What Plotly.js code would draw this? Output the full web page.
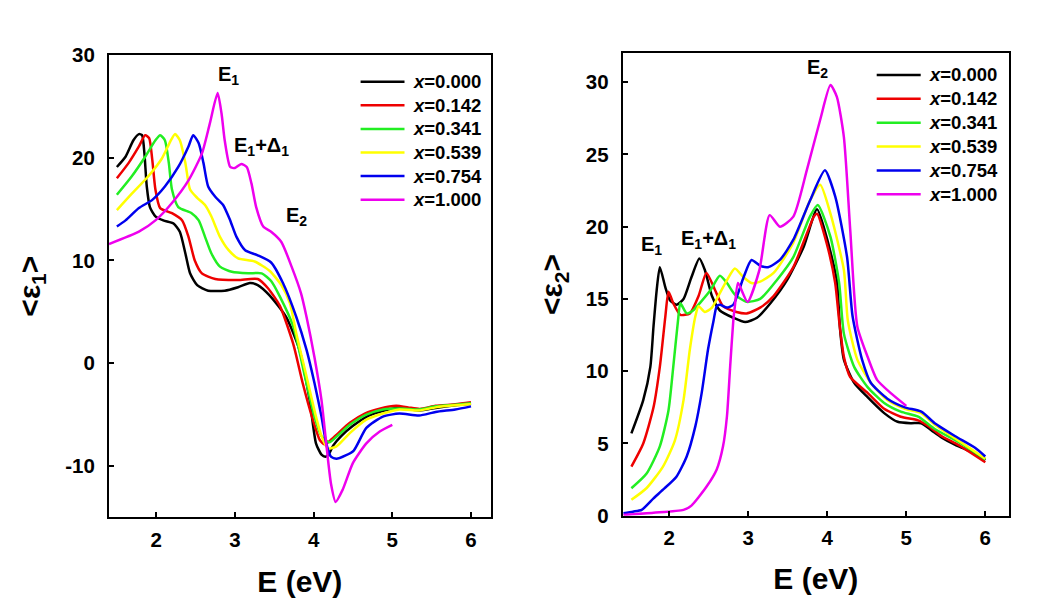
<!DOCTYPE html>
<html>
<head>
<meta charset="utf-8">
<script src="https://cdn.plot.ly/plotly-3.0.1.min.js"></script>
<style>html,body{margin:0;padding:0;background:#fff;}#chart{width:1060px;height:609px;}</style>
</head>
<body>
<div id="chart"></div>
<script>
// ---------- DATA ----------
const seriesLabels = ['0.000', '0.142', '0.341', '0.539', '0.754', '1.000'];
const seriesColors = ['#000000', '#ee0000', '#22ee22', '#ffff00', '#0000ee', '#ee00ee'];

// axis tick labels
const e1TickVals = [-10, 0, 10, 20, 30];
const e1TickText = ['-10', '0', '10', '20', '30'];
const e2TickVals = [0, 5, 10, 15, 20, 25, 30];
const eTickVals = [2, 3, 4, 5, 6];

// <eps1> panel
const e1_E_000 = [1.50,1.61,1.71,1.78,1.82,1.85,1.88,1.92,1.99,2.09,2.22,2.30,2.37,2.43,2.52,2.66,2.87,3.04,3.19,3.29,3.44,3.65,3.82,3.95,4.03,4.10,4.15,4.19,4.25,4.35,4.50,4.70,4.90,5.05,5.20,5.35,5.55,5.80,6.00];
const e1_V_000 = [19.1,20.1,21.7,22.3,22.2,20.4,17.2,15.2,14.3,13.9,13.6,12.8,10.7,8.75,7.6,7.06,7.06,7.4,7.8,7.6,6.6,4.5,1.3,-3.6,-7.8,-8.9,-9.1,-8.9,-8.0,-7.1,-6.1,-5.1,-4.6,-4.35,-4.45,-4.6,-4.35,-4.1,-3.95];
const e1_E_142 = [1.50,1.65,1.78,1.86,1.91,1.95,1.99,2.05,2.20,2.33,2.41,2.49,2.58,2.75,3.04,3.29,3.42,3.57,3.74,3.86,3.99,4.08,4.14,4.20,4.30,4.46,4.65,4.85,5.05,5.20,5.35,5.55,5.80,6.00];
const e1_V_142 = [18.0,19.5,21.1,22.2,21.9,19.8,16.9,15.1,14.6,13.9,12.3,10.0,8.75,8.2,8.1,8.2,7.3,5.6,1.9,-1.9,-5.5,-7.5,-7.9,-7.6,-6.9,-5.8,-4.9,-4.4,-4.15,-4.3,-4.45,-4.15,-4.0,-3.8];
const e1_E_341 = [1.50,1.69,1.86,1.99,2.05,2.11,2.16,2.20,2.28,2.45,2.54,2.62,2.70,2.81,2.96,3.17,3.34,3.46,3.57,3.74,3.89,4.01,4.10,4.20,4.30,4.46,4.67,4.88,5.09,5.34,5.55,5.80,6.00];
const e1_V_341 = [16.4,18.2,20.1,21.7,22.2,21.7,19.5,16.9,15.2,14.6,13.9,12.3,10.7,9.4,8.9,8.75,8.75,8.0,6.5,3.6,-1.3,-5.2,-7.1,-7.7,-7.1,-6.0,-5.0,-4.5,-4.4,-4.5,-4.2,-4.05,-3.9];
const e1_E_539 = [1.50,1.69,1.90,2.07,2.18,2.24,2.30,2.37,2.43,2.52,2.62,2.70,2.81,2.92,3.04,3.25,3.44,3.59,3.70,3.78,3.91,4.03,4.10,4.18,4.29,4.46,4.67,4.88,5.09,5.34,5.55,5.80,6.00];
const e1_V_539 = [14.9,16.5,18.2,19.9,21.6,22.3,21.7,19.5,16.9,16.1,15.4,14.3,12.3,11.0,10.2,9.9,9.0,7.6,5.8,2.9,-1.3,-5.2,-7.1,-8.3,-8.1,-6.8,-5.5,-4.9,-4.5,-4.6,-4.3,-4.1,-4.0];
const e1_E_754 = [1.50,1.61,1.78,1.95,2.11,2.28,2.41,2.47,2.54,2.60,2.66,2.75,2.85,2.94,3.02,3.13,3.29,3.46,3.61,3.78,3.91,4.01,4.10,4.16,4.22,4.29,4.40,4.51,4.67,4.88,5.09,5.34,5.55,5.80,6.00];
const e1_V_754 = [13.3,13.9,15.1,15.9,17.2,19.1,21.1,22.2,21.4,19.5,17.2,16.2,15.4,13.9,12.3,11.0,10.5,9.8,7.8,4.5,1.3,-1.9,-5.2,-7.8,-9.1,-9.3,-9.0,-8.5,-6.3,-5.2,-4.9,-5.1,-4.75,-4.5,-4.2];
const e1_E_1000 = [1.40,1.78,1.99,2.20,2.41,2.58,2.68,2.78,2.83,2.87,2.94,3.00,3.08,3.15,3.21,3.27,3.36,3.46,3.59,3.72,3.84,3.91,4.01,4.10,4.16,4.22,4.28,4.37,4.50,4.67,4.84,5.00];
const e1_V_1000 = [11.6,12.8,13.9,15.6,17.8,20.4,23.3,26.3,24.3,21.7,19.1,19.0,19.4,19.1,17.5,15.2,13.3,12.8,11.8,9.4,6.8,4.5,0.6,-3.6,-7.8,-11.7,-13.5,-12.3,-9.7,-7.8,-6.65,-6.0];

// <eps2> panel
const e2_E_000 = [1.52,1.67,1.76,1.80,1.84,1.88,1.95,2.01,2.09,2.18,2.28,2.38,2.45,2.54,2.64,2.81,2.96,3.11,3.28,3.49,3.70,3.87,3.99,4.12,4.16,4.21,4.34,4.51,4.72,4.89,5.06,5.19,5.32,5.45,5.62,5.79,6.00];
const e2_V_000 = [5.7,8.0,10.3,13.1,15.6,17.2,15.8,14.9,14.6,15.0,16.5,17.8,17.0,15.2,14.2,13.7,13.4,13.7,14.7,16.3,18.6,21.2,19.3,16.3,13.0,10.8,9.2,8.2,7.1,6.5,6.4,6.4,5.9,5.4,4.9,4.5,3.85];
const e2_E_142 = [1.52,1.67,1.80,1.88,1.95,1.99,2.05,2.14,2.26,2.37,2.47,2.58,2.68,2.85,2.98,3.15,3.32,3.57,3.83,3.87,3.99,4.10,4.15,4.21,4.29,4.51,4.72,4.93,5.15,5.28,5.45,5.66,6.00];
const e2_V_142 = [3.4,5.0,7.5,10.3,13.8,15.5,14.7,13.9,14.0,15.2,16.8,15.6,14.5,14.1,14.0,14.4,15.2,17.2,20.7,20.9,18.9,16.1,13.5,11.0,9.6,8.5,7.4,6.85,6.6,6.2,5.5,4.9,3.7];
const e2_E_341 = [1.52,1.71,1.88,1.99,2.05,2.11,2.14,2.22,2.30,2.40,2.52,2.64,2.73,2.83,2.98,3.15,3.36,3.57,3.78,3.88,4.04,4.15,4.21,4.34,4.51,4.72,4.93,5.15,5.36,5.66,6.00];
const e2_V_341 = [1.9,2.9,4.8,7.3,10.3,13.5,14.7,14.0,14.2,14.8,15.6,16.6,16.1,15.3,14.8,15.0,16.3,17.9,20.7,21.5,19.3,16.1,12.6,10.3,8.9,7.8,7.2,6.85,6.0,5.1,3.9];
const e2_E_539 = [1.52,1.71,1.92,2.07,2.18,2.26,2.33,2.37,2.45,2.54,2.63,2.73,2.83,2.94,3.04,3.15,3.32,3.57,3.78,3.91,4.04,4.21,4.26,4.38,4.55,4.76,4.98,5.19,5.36,5.66,6.00];
const e2_V_539 = [1.1,1.9,3.4,5.2,8.0,11.5,13.8,14.5,14.1,14.4,15.3,16.3,17.1,16.5,16.1,16.2,16.8,18.9,21.8,22.9,20.9,17.0,13.5,10.8,9.2,8.0,7.4,7.1,6.3,5.2,3.95];
const e2_E_754 = [1.42,1.54,1.65,1.80,1.92,2.09,2.22,2.33,2.41,2.49,2.56,2.60,2.64,2.73,2.81,2.94,3.04,3.15,3.25,3.40,3.57,3.78,3.97,4.10,4.25,4.32,4.44,4.55,4.76,4.98,5.19,5.36,5.62,5.87,6.00];
const e2_V_754 = [0.17,0.28,0.4,1.2,1.8,2.7,4.1,6.2,8.5,11.5,13.5,14.5,14.6,14.4,14.6,16.5,17.7,17.3,17.2,17.7,19.1,21.8,23.9,22.1,17.9,13.8,10.8,9.2,8.1,7.5,7.2,6.4,5.5,4.7,4.1];
const e2_E_1000 = [1.42,1.80,2.18,2.28,2.47,2.60,2.68,2.73,2.77,2.81,2.83,2.87,2.99,3.14,3.27,3.40,3.57,3.74,3.91,4.04,4.12,4.21,4.29,4.38,4.51,4.63,4.80,5.00];
const e2_V_1000 = [0.05,0.2,0.4,0.7,2.0,3.2,4.8,6.9,10.3,13.5,14.5,16.1,14.8,17.0,20.8,20.0,20.7,23.9,27.4,29.8,29.0,26.2,19.8,13.1,11.0,9.4,8.5,7.6];

// peak labels
const e1PeakText = ['E<sub>1</sub>', 'E<sub>1</sub>+Δ<sub>1</sub>', 'E<sub>2</sub>'];
const e1PeakE = [2.92, 3.34, 3.78];
const e1PeakV = [28.0, 21.1, 14.3];
const e2PeakText = ['E<sub>2</sub>', 'E<sub>1</sub>', 'E<sub>1</sub>+Δ<sub>1</sub>'];
const e2PeakE = [3.88, 1.77, 2.49];
const e2PeakV = [30.95, 18.7, 19.1];

// ---------- BUILD ----------
const FONT = 'Arial, "Liberation Sans", sans-serif';
const e1Sets = [[e1_E_000,e1_V_000],[e1_E_142,e1_V_142],[e1_E_341,e1_V_341],[e1_E_539,e1_V_539],[e1_E_754,e1_V_754],[e1_E_1000,e1_V_1000]];
const e2Sets = [[e2_E_000,e2_V_000],[e2_E_142,e2_V_142],[e2_E_341,e2_V_341],[e2_E_539,e2_V_539],[e2_E_754,e2_V_754],[e2_E_1000,e2_V_1000]];

const traces = [];
e1Sets.forEach((s, i) => traces.push({x: s[0], y: s[1], xaxis: 'x', yaxis: 'y', mode: 'lines',
  name: 'x=' + seriesLabels[i], line: {color: seriesColors[i], width: 2.5, shape: 'spline', smoothing: 0.6}, showlegend: false, hoverinfo: 'skip'}));
e2Sets.forEach((s, i) => traces.push({x: s[0], y: s[1], xaxis: 'x2', yaxis: 'y2', mode: 'lines',
  name: 'x=' + seriesLabels[i], line: {color: seriesColors[i], width: 2.5, shape: 'spline', smoothing: 0.6}, showlegend: false, hoverinfo: 'skip'}));

const W = 1060, H = 609;
const annotations = [];
const shapes = [];
// legends (drawn as layout decorations)
const legendSpecs = [
  {x0: 360.6, x1: 404.5, xt: 411, top: 81.7, step: 23.6},
  {x0: 876.7, x1: 920.7, xt: 927, top: 75.0, step: 23.85}
];
legendSpecs.forEach(spec => {
  seriesLabels.forEach((lab, i) => {
    const yy = 1 - (spec.top + i * spec.step) / H;
    shapes.push({type: 'line', xref: 'paper', yref: 'paper', x0: spec.x0 / W, x1: spec.x1 / W, y0: yy, y1: yy,
      line: {color: seriesColors[i], width: 2.5}});
    annotations.push({xref: 'paper', yref: 'paper', x: spec.xt / W, y: yy, xanchor: 'left', yanchor: 'middle',
      showarrow: false, text: '<i>x</i>=' + lab, font: {family: FONT, size: 18.5, weight: 700, color: '#000'}});
  });
});
e1PeakText.forEach((t, i) => annotations.push({xref: 'x', yref: 'y', x: e1PeakE[i], y: e1PeakV[i], text: t,
  showarrow: false, font: {family: FONT, size: 20, weight: 700, color: '#000'}}));
e2PeakText.forEach((t, i) => annotations.push({xref: 'x2', yref: 'y2', x: e2PeakE[i], y: e2PeakV[i], text: t,
  showarrow: false, font: {family: FONT, size: 20, weight: 700, color: '#000'}}));

const axisCommon = {
  showline: true, linewidth: 2, linecolor: '#000', mirror: true,
  ticks: 'inside', ticklen: 5, tickwidth: 2, tickcolor: '#000',
  showgrid: false, zeroline: false,
  tickfont: {family: FONT, size: 20.5, weight: 700, color: '#000'}
};
const titleFont = {family: FONT, size: 30, weight: 700, color: '#000'};

const layout = {
  width: W, height: H,
  margin: {l: 0, r: 0, t: 0, b: 0},
  paper_bgcolor: '#fff', plot_bgcolor: '#fff',
  showlegend: false,
  font: {family: FONT, color: '#000'},
  xaxis: Object.assign({}, axisCommon, {domain: [109 / W, 490.7 / W], range: [1.4, 6.25], anchor: 'y',
    tickvals: eTickVals, ticklabelstandoff: 3,
    title: {text: 'E (eV)', font: titleFont, standoff: 21}}),
  yaxis: Object.assign({}, axisCommon, {domain: [1 - 517.3 / H, 1 - 55 / H], range: [-15, 30], anchor: 'x',
    tickvals: e1TickVals, ticktext: e1TickText, ticklabelstandoff: 8,
    title: {text: '&lt;ε<sub>1</sub>&gt;', font: titleFont, standoff: 16}}),
  xaxis2: Object.assign({}, axisCommon, {domain: [622.7 / W, 1009 / W], range: [1.41, 6.30], anchor: 'y2',
    tickvals: eTickVals, ticklabelstandoff: 3,
    title: {text: 'E (eV)', font: titleFont, standoff: 20}}),
  yaxis2: Object.assign({}, axisCommon, {domain: [1 - 515.7 / H, 1 - 53.3 / H], range: [0, 32], anchor: 'x2',
    tickvals: e2TickVals, ticklabelstandoff: 8,
    title: {text: '&lt;ε<sub>2</sub>&gt;', font: titleFont, standoff: 14}}),
  annotations: annotations,
  shapes: shapes
};

Plotly.newPlot('chart', traces, layout, {staticPlot: true, displayModeBar: false});
</script>
</body>
</html>
